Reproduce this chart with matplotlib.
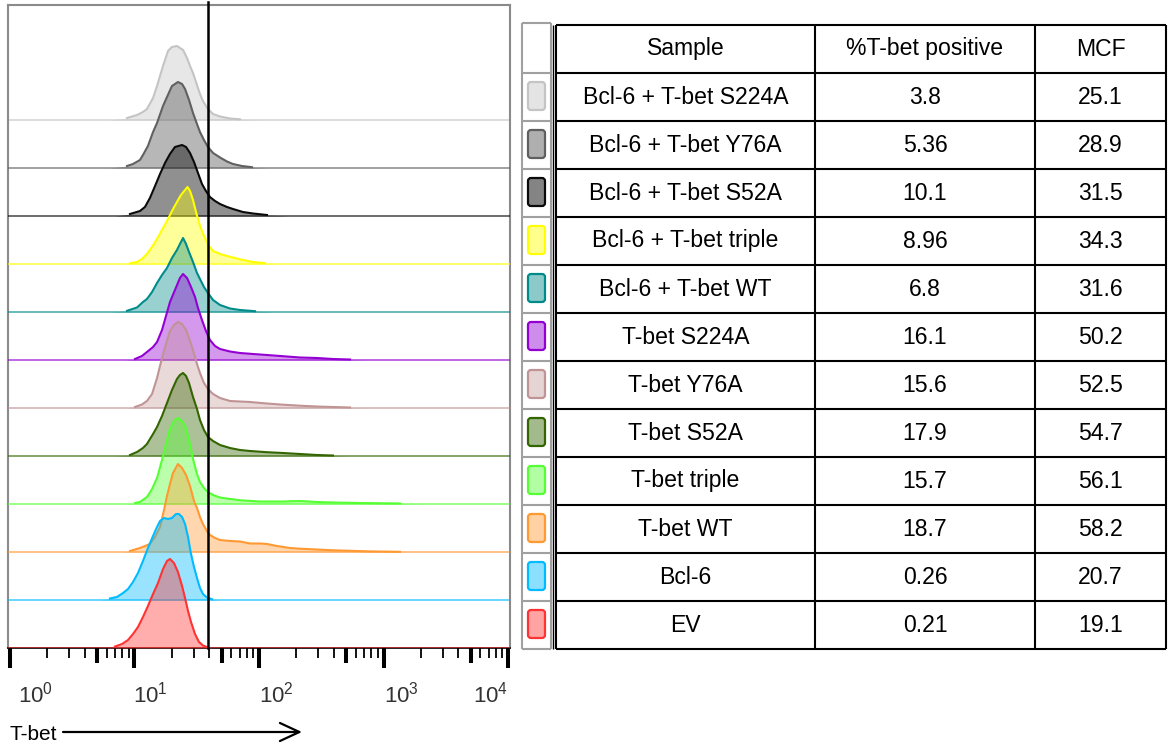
import numpy as np
import matplotlib
matplotlib.use('Agg')
import matplotlib.pyplot as plt
from matplotlib.patches import FancyBboxPatch
from matplotlib.ticker import FixedLocator, NullFormatter

plt.rcParams['font.family'] = ['Liberation Sans', 'DejaVu Sans']

# table contents, top row first
samples = ['Bcl-6 + T-bet S224A', 'Bcl-6 + T-bet Y76A', 'Bcl-6 + T-bet S52A',
           'Bcl-6 + T-bet triple', 'Bcl-6 + T-bet WT', 'T-bet S224A', 'T-bet Y76A',
           'T-bet S52A', 'T-bet triple', 'T-bet WT', 'Bcl-6', 'EV']
pct_positive = [3.8, 5.36, 10.1, 8.96, 6.8, 16.1, 15.6, 17.9, 15.7, 18.7, 0.26, 0.21]
mcf = [25.1, 28.9, 31.5, 34.3, 31.6, 50.2, 52.5, 54.7, 56.1, 58.2, 20.7, 19.1]
gate_log = 1.59  # log10 of the T-bet positive gate

# histogram readings: log10(T-bet) and relative count (same order as the table)
lx_bcl_s224a = [0.803, 0.940, 1.020, 1.068, 1.100, 1.149, 1.181, 1.229, 1.269, 1.301, 1.341, 1.390,
                1.422, 1.446, 1.470, 1.502, 1.526, 1.550, 1.590, 1.631, 1.687, 1.767, 1.847, 2.008]
ct_bcl_s224a = [0, 2, 5, 8, 11, 22, 34, 54, 69, 73, 74, 70, 62, 54, 47, 35, 26, 19, 11, 6, 3.5, 1.5, 0.7, 0]

lx_bcl_y76a = [0.803, 0.940, 0.988, 1.044, 1.068, 1.108, 1.149, 1.181, 1.229, 1.261, 1.301, 1.349, 1.382,
               1.406, 1.438, 1.470, 1.502, 1.526, 1.558, 1.590, 1.631, 1.687, 1.743, 1.791, 1.863, 1.944, 2.064]
ct_bcl_y76a = [0, 2, 4, 8, 13, 22, 36, 45, 62, 71, 82, 86, 84, 79, 68, 55, 44, 36, 28, 21, 15, 10.5, 6.5,
               4, 2, 0.8, 0]

lx_bcl_s52a = [0.843, 0.964, 1.044, 1.084, 1.124, 1.165, 1.205, 1.245, 1.285, 1.325, 1.382, 1.414, 1.446,
               1.478, 1.510, 1.542, 1.574, 1.606, 1.647, 1.687, 1.743, 1.791, 1.871, 1.952, 2.064, 2.249]
ct_bcl_s52a = [0, 2, 5, 9, 18, 30, 42, 53, 62, 69, 71, 69, 63, 54, 43, 32, 25, 19, 15, 12, 9, 7, 4, 2.5, 1, 0]

lx_bcl_triple = [0.884, 0.964, 1.020, 1.060, 1.100, 1.141, 1.181, 1.221, 1.261, 1.301, 1.341, 1.373, 1.406,
                 1.426, 1.446, 1.470, 1.494, 1.526, 1.558, 1.598, 1.631, 1.687, 1.743, 1.807, 1.871, 1.952,
                 2.048, 2.169]
ct_bcl_triple = [0, 0.7, 2, 5, 10, 17, 25, 34, 43, 53, 62, 69, 74, 77, 73, 64, 52, 38, 28, 18, 13, 10, 8, 6,
                 4, 2, 0.8, 0]

lx_bcl_wt = [0.803, 0.940, 1.020, 1.068, 1.100, 1.141, 1.181, 1.221, 1.261, 1.301, 1.341, 1.365, 1.390,
             1.414, 1.438, 1.470, 1.502, 1.526, 1.558, 1.590, 1.631, 1.687, 1.767, 1.847, 1.968, 2.129]
ct_bcl_wt = [0, 1.2, 4.5, 10, 13, 20, 29, 37, 44, 54, 62, 68, 74, 68, 60, 50, 39, 33, 25, 19, 12, 7, 3.5, 2,
             0.8, 0]

lx_s224a = [0.924, 1.004, 1.060, 1.100, 1.149, 1.181, 1.221, 1.253, 1.285, 1.325, 1.365, 1.390, 1.422,
            1.454, 1.486, 1.510, 1.542, 1.574, 1.606, 1.647, 1.687, 1.767, 1.847, 1.952, 2.064, 2.193,
            2.329, 2.466, 2.594, 2.731, 2.892]
ct_s224a = [0, 1, 4, 8, 13, 18, 30, 44, 58, 70, 82, 86, 82, 73, 63, 52, 40, 29, 20, 14, 11, 8.5, 7, 6, 5,
            3.8, 2.5, 2, 1, 0.5, 0]

lx_y76a = [0.924, 1.004, 1.060, 1.100, 1.141, 1.181, 1.221, 1.253, 1.285, 1.317, 1.349, 1.382, 1.414,
           1.446, 1.470, 1.502, 1.526, 1.558, 1.590, 1.631, 1.687, 1.767, 1.847, 1.928, 2.064, 2.193,
           2.329, 2.466, 2.594, 2.731, 2.892]
ct_y76a = [0, 1, 3.5, 7, 14, 30, 50, 64, 77, 83, 86, 84, 78, 67, 58, 44, 35, 25, 19, 14, 10, 7, 6.5, 6,
           4.5, 3.3, 2.3, 1.5, 1, 0.5, 0]

lx_s52a = [0.843, 0.964, 1.020, 1.068, 1.100, 1.149, 1.181, 1.221, 1.261, 1.301, 1.341, 1.365, 1.390,
           1.414, 1.438, 1.470, 1.502, 1.526, 1.558, 1.590, 1.631, 1.687, 1.767, 1.847, 1.928, 2.064,
           2.193, 2.329, 2.466, 2.594, 2.731]
ct_s52a = [0, 1, 4, 8, 12, 22, 29, 40, 53, 66, 77, 81, 83, 80, 73, 59, 47, 36, 26, 19, 15, 11, 8, 6, 5,
           3.8, 3, 2, 1, 0.5, 0]

lx_triple = [0.924, 1.004, 1.044, 1.100, 1.141, 1.181, 1.221, 1.253, 1.285, 1.317, 1.349, 1.382, 1.414,
             1.446, 1.470, 1.502, 1.526, 1.558, 1.590, 1.631, 1.687, 1.767, 1.871, 2.008, 2.193, 2.329,
             2.466, 2.594, 2.811, 3.133, 3.373]
ct_triple = [0, 1, 2, 7, 15, 26, 44, 60, 75, 83, 86, 83, 76, 60, 45, 30, 22, 16, 12, 9, 6.5, 5, 3.5, 2.5,
             2.5, 3, 2, 1.5, 1, 0.5, 0]

lx_wt = [0.884, 0.964, 1.044, 1.124, 1.165, 1.205, 1.237, 1.261, 1.285, 1.309, 1.349, 1.382, 1.414, 1.446,
         1.478, 1.502, 1.526, 1.550, 1.582, 1.606, 1.647, 1.687, 1.767, 1.847, 1.928, 2.008, 2.064, 2.145,
         2.249, 2.329, 2.466, 2.594, 2.731, 2.892, 3.133, 3.293]
ct_wt = [0, 1, 4, 8, 15, 25, 42, 56, 68, 79, 88, 84, 77, 66, 51, 44, 35, 28, 21, 17, 14, 12, 11, 10.5, 8.5,
         8.5, 8, 6, 4, 3.3, 2.5, 1.7, 1.2, 0.6, 0.2, 0]

lx_bcl6 = [0.723, 0.803, 0.859, 0.908, 0.948, 0.988, 1.028, 1.068, 1.108, 1.149, 1.181, 1.205, 1.237,
           1.269, 1.301, 1.333, 1.357, 1.382, 1.406, 1.430, 1.454, 1.478, 1.502, 1.526, 1.550, 1.582,
           1.622, 1.687]
ct_bcl6 = [0, 1.5, 3, 7, 11, 18, 27, 39, 52, 64, 73, 79, 82, 81, 82, 86, 86, 83, 76, 63, 46, 33, 22, 12, 6,
           2.5, 0.8, 0]

lx_ev = [0.763, 0.843, 0.900, 0.948, 0.988, 1.028, 1.068, 1.108, 1.149, 1.189, 1.229, 1.261, 1.285, 1.317,
         1.349, 1.382, 1.406, 1.430, 1.454, 1.486, 1.518, 1.550, 1.590, 1.647]
ct_ev = [0, 1.5, 4, 8, 14, 21, 31, 42, 54, 65, 79, 87, 89, 85, 76, 62, 50, 37, 26, 14, 6, 2.5, 0.5, 0]

hist_x = [lx_bcl_s224a, lx_bcl_y76a, lx_bcl_s52a, lx_bcl_triple, lx_bcl_wt, lx_s224a,
          lx_y76a, lx_s52a, lx_triple, lx_wt, lx_bcl6, lx_ev]
hist_y = [ct_bcl_s224a, ct_bcl_y76a, ct_bcl_s52a, ct_bcl_triple, ct_bcl_wt, ct_s224a,
          ct_y76a, ct_s52a, ct_triple, ct_wt, ct_bcl6, ct_ev]

line_colors = ['#c4c4c4', '#606060', '#0a0a0a', '#ffff00', '#008b8b', '#9400d3',
               '#c09494', '#336600', '#55ff33', '#ff9933', '#00bbff', '#ff3333']
fill_alpha = [0.4, 0.45, 0.45, 0.4, 0.4, 0.4, 0.35, 0.4, 0.4, 0.4, 0.4, 0.4]

W, H = 1172, 750
fig = plt.figure(figsize=(W / 100, H / 100), dpi=100)

# pixel-space layer for the table, swatches and axis caption
frame = fig.add_axes([0, 0, 1, 1])
frame.set_xlim(0, W)
frame.set_ylim(H, 0)
frame.axis('off')

# ---- offset histograms ----
ax = fig.add_axes([8 / W, (H - 648) / H, 502 / W, 643 / H])
ax.set_xscale('log')
ax.set_xlim(10 ** -0.016, 10 ** 4.016)
ax.set_ylim(0, 643)
n = len(samples)
step = 48
for i in range(n):
    base = step * (n - 1 - i)
    x = 10 ** np.array(hist_x[i])
    h = np.array(hist_y[i])
    col = line_colors[i]
    ax.axhline(base, color=col, lw=1.4, alpha=0.6, zorder=2 * i + 1)
    ax.fill_between(x, base, base + h, color=col, alpha=fill_alpha[i], lw=0, zorder=2 * i + 1)
    # outline only where there are events, the empty channels are the faint baseline
    nz = np.nonzero(h)[0]
    sl = slice(nz[0], nz[-1] + 1)
    ax.plot(x[sl], base + h[sl], color=col, lw=1.5, zorder=2 * i + 2, solid_joinstyle='round')

ax.axvline(10 ** gate_log, ymin=0, ymax=1.005, color='k', lw=1.8, zorder=60, clip_on=False)

for side in ['left', 'right', 'top']:
    ax.spines[side].set_color('#8a8a8a')
    ax.spines[side].set_linewidth(1.5)
ax.spines['bottom'].set_color('k')
ax.spines['bottom'].set_linewidth(1.2)
ax.set_yticks([])
ax.xaxis.set_major_locator(FixedLocator([1, 10, 100, 1000, 10000]))
ax.xaxis.set_minor_locator(FixedLocator([m * 10 ** k for k in range(4) for m in (2, 3, 4, 6, 7, 8, 9)]))
ax.xaxis.set_major_formatter(NullFormatter())
ax.xaxis.set_minor_formatter(NullFormatter())
ax.tick_params(axis='x', which='major', direction='out', length=14.4, width=2.9, color='k')
ax.tick_params(axis='x', which='minor', direction='out', length=7.2, width=1.3, color='k')
ax.vlines([5, 50, 500, 5000], -15 / 643, 0, transform=ax.get_xaxis_transform(),
          colors='k', lw=2.9, clip_on=False)

label_dx = [8, -1, 0, 0, 0]
for k in range(5):
    ax.annotate(rf'$\mathregular{{10^{{{k}}}}}$', xy=(10 ** k, 0), xycoords=ax.get_xaxis_transform(),
                xytext=(label_dx[k] * 0.72, -55 * 0.72), textcoords='offset points',
                ha='right' if k == 4 else 'left', va='baseline', fontsize=16, color='#333333',
                annotation_clip=False)

frame.text(10, 740, 'T-bet', fontsize=15, ha='left', va='baseline')
frame.annotate('', xy=(302, 732), xytext=(63, 732),
               arrowprops=dict(arrowstyle='->,head_length=1.4,head_width=0.65', lw=1.6,
                               color='k', shrinkA=0, shrinkB=0))

# ---- table ----
col_x = [556, 815, 1035, 1166]
row_y = [25] + [73 + step * k for k in range(n + 1)]
frame.hlines(row_y, col_x[0], col_x[-1], colors='k', lw=1.5)
frame.vlines(col_x, row_y[0], row_y[-1], colors='k', lw=1.5)
frame.vlines([553], row_y[0], row_y[-1], colors='k', lw=1.0)

headers = ['Sample', '%T-bet positive', 'MCF']
for j, txt in enumerate(headers):
    frame.text((col_x[j] + col_x[j + 1]) / 2, (row_y[0] + row_y[1]) / 2, txt,
               ha='center', va='center', fontsize=16.6)
for i in range(n):
    yc = (row_y[i + 1] + row_y[i + 2]) / 2
    cells = [samples[i], str(pct_positive[i]), str(mcf[i])]
    for j, txt in enumerate(cells):
        frame.text((col_x[j] + col_x[j + 1]) / 2, yc, txt, ha='center', va='center', fontsize=16.6)

# swatch column
sw_x = [522, 551]
frame.hlines([23] + row_y[1:], sw_x[0], sw_x[1], colors='#a0a0a0', lw=1.5)
frame.vlines(sw_x, 23, row_y[-1], colors='#a0a0a0', lw=1.5)
for i in range(n):
    yc = (row_y[i + 1] + row_y[i + 2]) / 2 - 1
    frame.add_patch(FancyBboxPatch((528, yc - 14), 17, 28, boxstyle='round,pad=0,rounding_size=3',
                                   fc=matplotlib.colors.to_rgba(line_colors[i], fill_alpha[i] + 0.05),
                                   ec=line_colors[i], lw=1.6))

fig.savefig('out.png', dpi=100)
